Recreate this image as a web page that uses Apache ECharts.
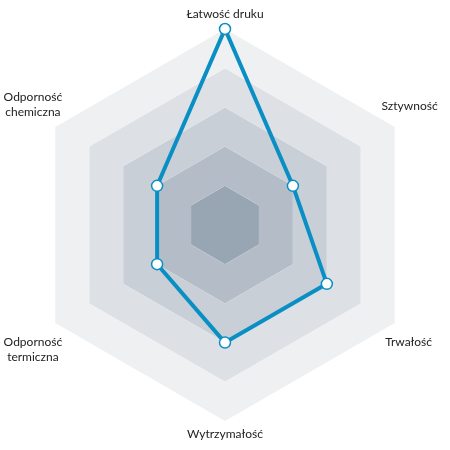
<!DOCTYPE html>
<html>
<head>
<meta charset="utf-8">
<script src="https://cdn.jsdelivr.net/npm/echarts@6/dist/echarts.min.js"></script>
<style>
  html, body { margin: 0; padding: 0; background: #ffffff; }
  #chart { width: 450px; height: 450px; }
</style>
</head>
<body>
<div id="chart"></div>
<script>
// Material properties (scale 0–5)
const indicators = [
  'Łatwość druku',
  'Odporność\nchemiczna',
  'Odporność\ntermiczna',
  'Wytrzymałość',
  'Trwałość',
  'Sztywność'
];
const maxValue = 5;
const values = [5, 2, 2, 3, 3, 2];

// Per-line label nudges [top, right, bottom, left], one entry per indicator line
const labelPadding = [
  [[2, 0, 0, 0]],
  [[0, 17, 0, 0], [0, 17, 28, 0]],
  [[38, 17, 0, 0], [0, 17, 0, 0]],
  [[0, 0, 6, 0]],
  [[22, 0, 0, 0]],
  [[0, 0, 26, 2]]
];

const LINE = 15;
const baseText = { fontFamily: 'Lato', fontSize: 12, color: '#222222', lineHeight: LINE };
const rich = {};
labelPadding.forEach((lines, i) => {
  lines.forEach((pad, j) => {
    rich['l' + i + '_' + j] = Object.assign({}, baseText, {
      padding: pad,
      lineHeight: LINE + pad[0] + pad[2]
    });
  });
});

const chart = echarts.init(document.getElementById('chart'));
chart.setOption({
  animation: false,
  radar: {
    center: ['50%', '50%'],
    radius: 196,
    startAngle: 90,
    shape: 'polygon',
    splitNumber: 5,
    indicator: indicators.map(name => ({ name, max: maxValue, min: 0 })),
    axisName: Object.assign({}, baseText, {
      align: 'center',
      verticalAlign: 'middle',
      formatter: function (name) {
        const i = indicators.indexOf(name);
        return name.split('\n')
          .map((line, j) => '{l' + i + '_' + j + '|' + line + '}')
          .join('\n');
      },
      rich: rich
    }),
    nameGap: 16,
    axisLine: { show: false },
    splitLine: { show: false },
    splitArea: {
      show: true,
      areaStyle: {
        color: ['#98a5b2', '#b4bdc7', '#c9cfd6', '#dde1e6', '#eff0f2']
      }
    }
  },
  series: [{
    type: 'radar',
    data: [{ value: values }],
    symbol: 'circle',
    symbolSize: 11,
    lineStyle: { color: '#0a8fc4', width: 4 },
    itemStyle: { color: '#ffffff', borderColor: '#0a8fc4', borderWidth: 1.5 },
    areaStyle: null
  }]
});
</script>
</body>
</html>
